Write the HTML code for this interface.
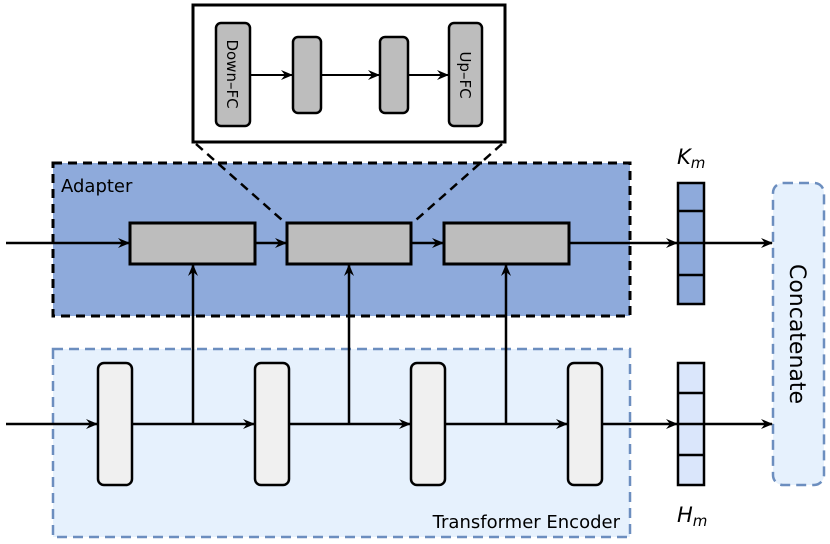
<!DOCTYPE html>
<html><head><style>
html,body{margin:0;padding:0;background:#fff;}
svg{display:block;}
text{font-family:"DejaVu Sans","Liberation Sans",sans-serif;}
</style></head><body>
<svg width="830" height="544" viewBox="0 0 830 544" xmlns="http://www.w3.org/2000/svg">
<defs>
<marker id="a" viewBox="0 0 12 12" refX="11" refY="6" markerWidth="12" markerHeight="12" markerUnits="userSpaceOnUse" orient="auto">
<path d="M0,1 L12,6 L0,11 L4,6 Z" fill="#000"/>
</marker>
</defs>
<rect x="53" y="163" width="577" height="153" fill="#8eaadb" stroke="#000" stroke-width="3" stroke-dasharray="9,6"/>
<text x="61" y="192" font-size="18">Adapter</text>
<rect x="53" y="349" width="577" height="188" fill="#e6f1fd" stroke="#6c8ebf" stroke-width="2.5" stroke-dasharray="10,6"/>
<text x="620" y="528" font-size="18" text-anchor="end">Transformer Encoder</text>
<rect x="773" y="183" width="51" height="302" rx="10" fill="#e6f1fd" stroke="#6c8ebf" stroke-width="2.5" stroke-dasharray="10,6"/>
<text transform="translate(790,334) rotate(90)" font-size="22" text-anchor="middle">Concatenate</text>
<rect x="193" y="5" width="312" height="137" fill="#fff" stroke="#000" stroke-width="3"/>
<line x1="196" y1="144" x2="282" y2="220" stroke="#000" stroke-width="2.5" stroke-dasharray="9,6"/>
<line x1="502" y1="144" x2="416" y2="220" stroke="#000" stroke-width="2.5" stroke-dasharray="9,6"/>
<rect x="216" y="23" width="34" height="103" rx="5" fill="#bdbdbd" stroke="#000" stroke-width="2.5"/>
<rect x="293" y="37" width="28" height="76" rx="5" fill="#bdbdbd" stroke="#000" stroke-width="2.5"/>
<rect x="380" y="37" width="28" height="76" rx="5" fill="#bdbdbd" stroke="#000" stroke-width="2.5"/>
<rect x="449" y="23" width="33" height="103" rx="5" fill="#bdbdbd" stroke="#000" stroke-width="2.5"/>
<text transform="translate(227,74) rotate(90)" font-size="15" text-anchor="middle">Down–FC</text>
<text transform="translate(460,75) rotate(90)" font-size="15" text-anchor="middle">Up–FC</text>
<g stroke="#000" stroke-width="2" fill="none" marker-end="url(#a)">
<line x1="250" y1="75" x2="292" y2="75"/>
<line x1="321" y1="75" x2="379" y2="75"/>
<line x1="408" y1="75" x2="448" y2="75"/>
</g>
<rect x="130" y="223" width="125" height="41" fill="#bdbdbd" stroke="#000" stroke-width="3"/>
<rect x="287" y="223" width="124" height="41" fill="#bdbdbd" stroke="#000" stroke-width="3"/>
<rect x="444" y="223" width="125" height="41" fill="#bdbdbd" stroke="#000" stroke-width="3"/>
<rect x="98" y="363" width="34" height="122" rx="6" fill="#f0f0f0" stroke="#000" stroke-width="2.5"/>
<rect x="255" y="363" width="34" height="122" rx="6" fill="#f0f0f0" stroke="#000" stroke-width="2.5"/>
<rect x="411" y="363" width="34" height="122" rx="6" fill="#f0f0f0" stroke="#000" stroke-width="2.5"/>
<rect x="568" y="363" width="34" height="122" rx="6" fill="#f0f0f0" stroke="#000" stroke-width="2.5"/>
<rect x="678" y="183" width="26" height="121" fill="#8eaadb" stroke="#000" stroke-width="2.5"/>
<g stroke="#000" stroke-width="2.5"><line x1="678" y1="211" x2="704" y2="211"/><line x1="678" y1="243" x2="704" y2="243"/><line x1="678" y1="275" x2="704" y2="275"/></g>
<rect x="678" y="363" width="26" height="122" fill="#dae6fb" stroke="#000" stroke-width="2.5"/>
<g stroke="#000" stroke-width="2.5"><line x1="678" y1="393" x2="704" y2="393"/><line x1="678" y1="424" x2="704" y2="424"/><line x1="678" y1="455" x2="704" y2="455"/></g>
<text x="677" y="164" font-size="21" font-style="italic" font-family="Liberation Serif,serif">K<tspan font-size="15" dy="4">m</tspan></text>
<text x="677" y="522" font-size="21" font-style="italic" font-family="Liberation Serif,serif">H<tspan font-size="15" dy="4">m</tspan></text>
<g stroke="#000" stroke-width="2.5" fill="none" marker-end="url(#a)">
<line x1="6" y1="243" x2="129" y2="243"/>
<line x1="255" y1="243" x2="286" y2="243"/>
<line x1="411" y1="243" x2="443" y2="243"/>
<line x1="569" y1="243" x2="677" y2="243"/>
<line x1="704" y1="243" x2="772" y2="243"/>
<line x1="6" y1="424" x2="97" y2="424"/>
<line x1="132" y1="424" x2="254" y2="424"/>
<line x1="289" y1="424" x2="410" y2="424"/>
<line x1="445" y1="424" x2="567" y2="424"/>
<line x1="602" y1="424" x2="677" y2="424"/>
<line x1="704" y1="424" x2="772" y2="424"/>
<line x1="193" y1="424" x2="193" y2="265"/>
<line x1="349" y1="424" x2="349" y2="265"/>
<line x1="506" y1="424" x2="506" y2="265"/>
</g>
</svg>
</body></html>
